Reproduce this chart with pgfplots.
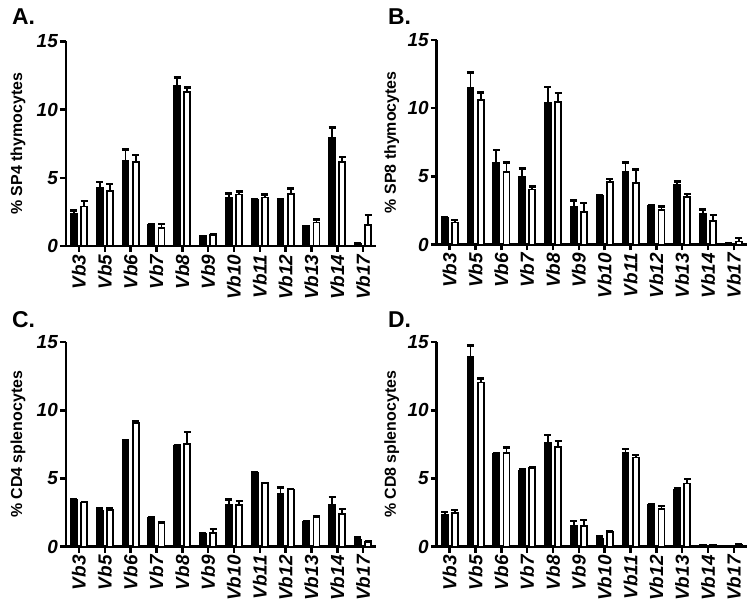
\documentclass[border=0pt]{standalone}
\usepackage{pgfplots}
\pgfplotsset{compat=1.18}
\usepackage{pgfplotstable}
\usepackage{fontspec}
\setmainfont{Liberation Sans}

\pgfplotstableread{
x b be w we
0 2.34 0.25 2.90 0.39
1 4.27 0.44 4.05 0.49
2 6.27 0.80 6.15 0.51
3 1.54 0.06 1.34 0.26
4 11.76 0.61 11.29 0.34
5 0.71 0.03 0.80 0.05
6 3.54 0.31 3.78 0.20
7 3.39 0.04 3.56 0.22
8 3.37 0.03 3.80 0.40
9 1.44 0.04 1.73 0.20
10 7.90 0.78 6.17 0.34
11 0.17 0.03 1.56 0.71
}\dataA

\pgfplotstableread{
x b be w we
0 1.94 0.04 1.62 0.17
1 11.47 1.15 10.61 0.54
2 5.96 0.98 5.32 0.71
3 4.95 0.64 4.04 0.20
4 10.42 1.15 10.44 0.69
5 2.75 0.49 2.40 0.64
6 3.58 0.05 4.61 0.19
7 5.34 0.66 4.51 0.98
8 2.84 0.03 2.52 0.27
9 4.34 0.27 3.48 0.22
10 2.28 0.27 1.72 0.44
11 0.05 0.01 0.22 0.25
}\dataB

\pgfplotstableread{
x b be w we
0 3.41 0.04 3.24 0.05
1 2.63 0.17 2.68 0.12
2 7.68 0.15 9.10 0.12
3 2.12 0.05 1.76 0.03
4 7.37 0.05 7.54 0.87
5 0.93 0.03 1.02 0.27
6 3.05 0.41 3.05 0.32
7 5.41 0.05 4.66 0.03
8 3.88 0.46 4.20 0.04
9 1.85 0.03 2.17 0.05
10 3.10 0.53 2.39 0.37
11 0.51 0.17 0.37 0.03
}\dataC

\pgfplotstableread{
x b be w we
0 2.32 0.22 2.49 0.19
1 13.93 0.83 12.05 0.27
2 6.83 0.02 6.90 0.37
3 5.54 0.12 5.80 0.02
4 7.63 0.57 7.32 0.44
5 1.54 0.36 1.51 0.44
6 0.56 0.17 1.10 0.05
7 6.88 0.29 6.54 0.17
8 3.05 0.05 2.78 0.22
9 4.15 0.17 4.63 0.32
10 0.12 0.01 0.12 0.01
11 0.00 0.00 0.15 0.02
}\dataD

\pgfplotsset{
  panel/.style={
    scale only axis, width=310bp, height=204.5bp,
    xmin=-0.5, xmax=11.5, ymin=0, ymax=15,
    axis x line=bottom, axis y line=left,
    axis line style={-, line width=2.8bp, black},
    xtick={0,...,11},
    xticklabels={Vb3,Vb5,Vb6,Vb7,Vb8,Vb9,Vb10,Vb11,Vb12,Vb13,Vb14,Vb17},
    ytick={0,5,10,15}, yticklabels={0,5,10,15},
    tick align=outside, major tick length=6bp,
    tick style={line width=2.5bp, black},
    xticklabel style={rotate=90, anchor=east, inner sep=2.5bp,
      font=\fontsize{19}{19}\selectfont\bfseries\itshape},
    yticklabel style={inner sep=2bp,
      font=\fontsize{19}{19}\selectfont\bfseries\itshape},
    ybar=4.2bp, bar width=6bp,
    clip=false,
    ylabel style={font=\fontsize{16}{16}\selectfont\bfseries,
      anchor=center},
    error bars/y dir=plus, error bars/y explicit,
    error bars/error bar style={line width=1.8bp, black},
    error bars/error mark options={rotate=90, mark size=3.5bp, line width=2.5bp, black},
  },
  blackbar/.style={fill=black, draw=black, line width=1.8bp},
  whitebar/.style={fill=white, draw=black, line width=1.8bp},
}

\begin{document}
\begin{tikzpicture}
\useasboundingbox (0,0) rectangle (751bp,603bp);

\begin{axis}[panel, at={(66bp,357bp)}, anchor=south west,
  ylabel={\% SP4 thymocytes},
  every axis y label/.append style={at={(axis description cs:-0.155,0.5)}}]
\addplot[blackbar] table[x=x, y=b, y error=be] {\dataA};
\addplot[whitebar] table[x=x, y=w, y error=we] {\dataA};
\end{axis}

\begin{axis}[panel, at={(436.8bp,358.5bp)}, anchor=south west,
  ylabel={\% SP8 thymocytes},
  every axis y label/.append style={at={(axis description cs:-0.145,0.5)}}]
\addplot[blackbar] table[x=x, y=b, y error=be] {\dataB};
\addplot[whitebar] table[x=x, y=w, y error=we] {\dataB};
\end{axis}

\begin{axis}[panel, at={(66bp,56.3bp)}, anchor=south west,
  ylabel={\% CD4 splenocytes},
  every axis y label/.append style={at={(axis description cs:-0.155,0.5)}}]
\addplot[blackbar] table[x=x, y=b, y error=be] {\dataC};
\addplot[whitebar] table[x=x, y=w, y error=we] {\dataC};
\end{axis}

\begin{axis}[panel, at={(436.8bp,56.3bp)}, anchor=south west,
  ylabel={\% CD8 splenocytes},
  every axis y label/.append style={at={(axis description cs:-0.145,0.5)}}]
\addplot[blackbar] table[x=x, y=b, y error=be] {\dataD};
\addplot[whitebar] table[x=x, y=w, y error=we] {\dataD};
\end{axis}

\node[anchor=base west, inner sep=0, font=\fontsize{23}{23}\selectfont\bfseries] at (12bp,578bp) {A.};
\node[anchor=base west, inner sep=0, font=\fontsize{23}{23}\selectfont\bfseries] at (388bp,578bp) {B.};
\node[anchor=base west, inner sep=0, font=\fontsize{23}{23}\selectfont\bfseries] at (12bp,275bp) {C.};
\node[anchor=base west, inner sep=0, font=\fontsize{23}{23}\selectfont\bfseries] at (388bp,275bp) {D.};
\end{tikzpicture}
\end{document}
